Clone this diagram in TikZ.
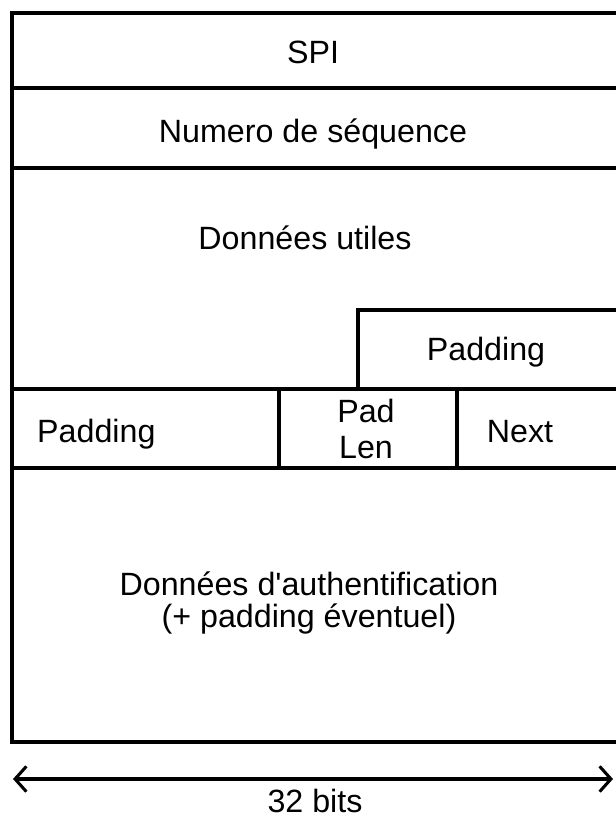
\documentclass[tikz,border=0pt]{standalone}
\usepackage{fontspec}
\setmainfont{Liberation Sans}
\usepackage{tikz}
\usetikzlibrary{arrows.meta,positioning}

\begin{document}
\begin{tikzpicture}[
    x=0.03cm, y=-0.03cm,
    frame/.style={line width=2.9pt, line cap=rect},
    field/.style={inner sep=0pt, font=\fontsize{27.5}{36}\selectfont, align=center},
    label/.style={inner sep=0pt, font=\fontsize{27.5}{30}\selectfont},
    arrow/.style={{Straight Barb[length=3.4mm,width=7.6mm,line width=2.6pt]}-{Straight Barb[length=3.4mm,width=7.6mm,line width=2.6pt]}, line width=2.9pt}
]
\useasboundingbox (0,0) rectangle (615,819);
% frame of the packet
\coordinate (tl) at (12,13);
\coordinate (bl) at (12,742);
\draw[frame] (616,13) -- (tl) -- (bl) -- (616,742);
\draw[frame] (12,88) -- (616,88);
\draw[frame] (12,168) -- (616,168);
\draw[frame] (358,389) -- (358,310) -- (616,310);
\draw[frame] (12,389) -- (616,389);
\draw[frame] (12,468) -- (616,468);
\draw[frame] (279,389) -- (279,468);
\draw[frame] (457,389) -- (457,468);

\node[field, anchor=base] (spi) at (313,64) {SPI};
\node[field, anchor=base] (seq) at (313,143) {Numero de séquence};
\node[field, anchor=base] (data) at (305,249) {Données utiles};
\node[field, anchor=base] (pad1) at (486,360) {Padding};
\node[field, anchor=base west] (pad2) at (37,442) {Padding};
\node[field, anchor=base] (padlen) at (366,422) {Pad};
\node[field, anchor=base] (padlen2) at (366,458) {Len};
\node[field, anchor=base] (next) at (520,442) {Next};
\node[field, anchor=base] (auth) at (309,595) {Données d\textquotesingle authentification};
\node[field, anchor=base] (auth2) at (309,627) {(+ padding éventuel)};

% width of the packet
\coordinate (wl) at (13,779);
\coordinate (wr) at (613,779);
\draw[arrow] (wl) -- (wr);
\node[label, anchor=base] (bits) at (315,812) {32 bits};
\end{tikzpicture}
\end{document}
